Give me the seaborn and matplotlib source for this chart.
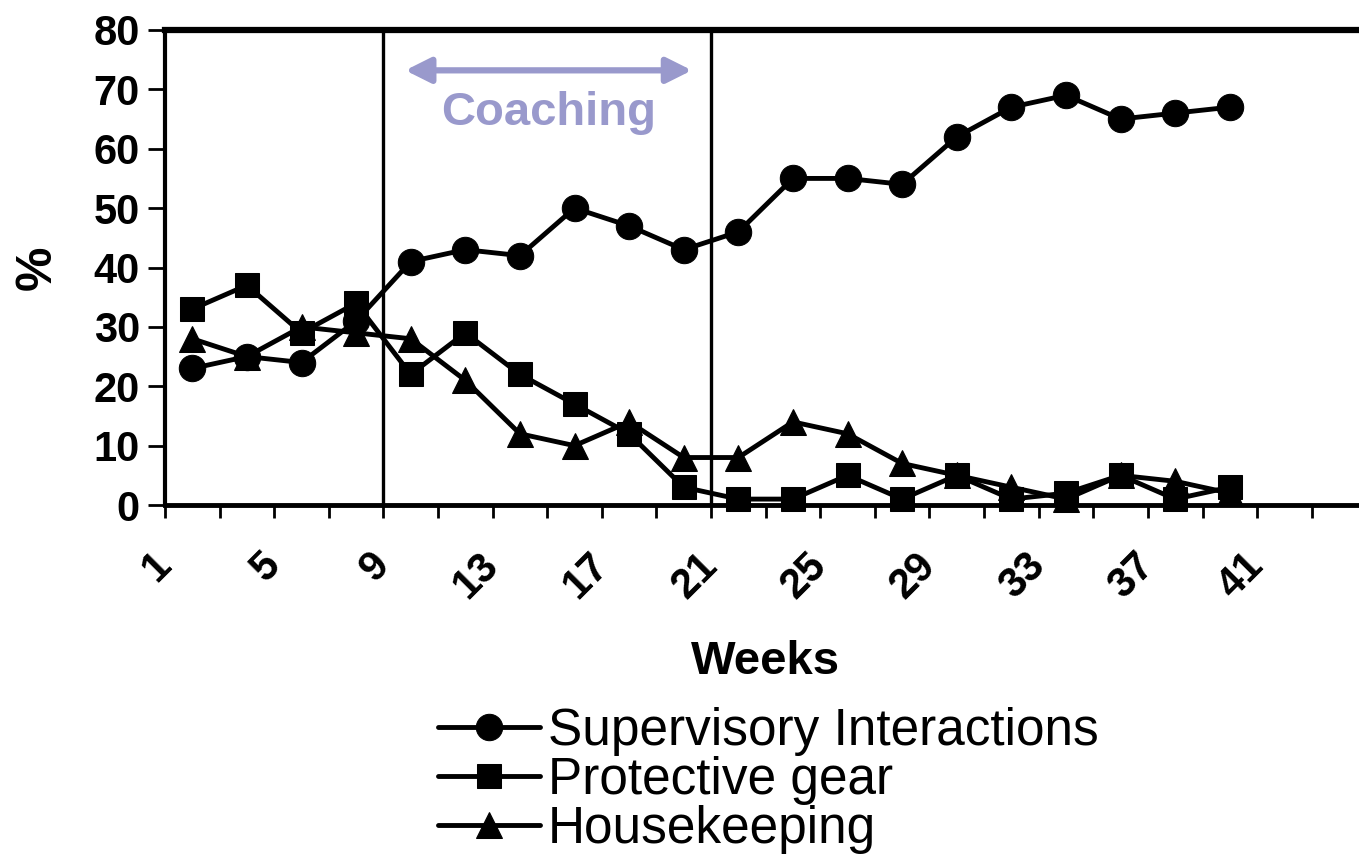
import matplotlib
matplotlib.use("Agg")
import matplotlib.pyplot as plt
import seaborn as sns
import numpy as np
import pandas as pd

# ---- data ----
weeks = [2, 4, 6, 8, 10, 12, 14, 16, 18, 20, 22, 24, 26, 28, 30, 32, 34, 36, 38, 40]
supervisory = [23, 25, 24, 31, 41, 43, 42, 50, 47, 43, 46, 55, 55, 54, 62, 67, 69, 65, 66, 67]
protective = [33, 37, 29, 34, 22, 29, 22, 17, 12, 3, 1, 1, 5, 1, 5, 1, 2, 5, 1, 3]
housekeeping = [28, 25, 30, 29, 28, 21, 12, 10, 14, 8, 8, 14, 12, 7, 5, 3, 1, 5, 4, 2]
series_names = ["Supervisory Interactions", "Protective gear", "Housekeeping"]
xtick_values = list(range(1, 45, 2))
xtick_labels = [str(v) if (v - 1) % 4 == 0 else "" for v in xtick_values]
ytick_values = list(range(0, 90, 10))
phase_lines = [9, 21]
coaching_span = (9.8, 20.3)

sns.set_theme(style="ticks")
plt.rcParams["font.family"] = ["Liberation Sans", "DejaVu Sans"]
plt.rcParams["text.color"] = "black"
plt.rcParams["axes.labelcolor"] = "black"
plt.rcParams["xtick.color"] = "black"
plt.rcParams["ytick.color"] = "black"

fig = plt.figure(figsize=(13.59, 8.56), dpi=100)
ax = fig.add_axes([0.1214, 0.410, 0.884, 0.555])

styles = [
    (supervisory, "o", 19),
    (protective, "s", 17),
    (housekeeping, "^", 19),
]
for (vals, mk, ms), name in zip(styles, series_names):
    sns.lineplot(x=weeks, y=vals, ax=ax, color="black", marker=mk, markersize=ms,
                 markeredgecolor="black", markerfacecolor="black", linewidth=3.5,
                 label=name, clip_on=False, zorder=3)

for xv in phase_lines:
    ax.axvline(xv, color="black", linewidth=2.4, zorder=2)

ax.set_xlim(1, 45)
ax.set_ylim(0, 80)
ax.set_xticks(xtick_values)
ax.set_xticklabels(xtick_labels, rotation=45, ha="right", va="center",
                   rotation_mode="anchor", fontsize=30, fontweight="bold")
ax.set_yticks(ytick_values)
ax.set_yticklabels([str(v) for v in ytick_values], fontsize=30, fontweight="bold")
ax.tick_params(axis="x", direction="out", length=9, width=2, pad=30)
ax.tick_params(axis="y", direction="out", length=12, width=2, pad=6)

for side in ["left", "bottom", "top"]:
    ax.spines[side].set_visible(True)
    ax.spines[side].set_color("black")
ax.spines["left"].set_linewidth(3)
ax.spines["bottom"].set_linewidth(3.5)
ax.spines["top"].set_linewidth(4.5)
ax.spines["right"].set_visible(False)

ax.set_xlabel("Weeks", fontsize=34, fontweight="bold")
ax.xaxis.set_label_coords(0.5, -0.285)
ax.set_ylabel("%", fontsize=36, fontweight="bold", labelpad=24)

# Coaching annotation
lav = "#9999CC"
ax.annotate("", xy=(coaching_span[1], 73.2), xytext=(coaching_span[0], 73.2),
            arrowprops=dict(arrowstyle="<|-|>", color=lav, lw=4.5,
                            mutation_scale=38, shrinkA=0, shrinkB=0))
ax.text(sum(coaching_span) / 2, 66, "Coaching", color=lav, fontsize=34,
        fontweight="bold", ha="center", va="center")

handles, labels = ax.get_legend_handles_labels()
ax.get_legend().remove()
leg = fig.legend(handles, labels, loc="upper left", bbox_to_anchor=(0.322, 0.174),
                 frameon=False, fontsize=37, handlelength=2.0, handletextpad=0.15,
                 labelspacing=0.0, borderpad=0, borderaxespad=0)
for t in leg.get_texts():
    t.set_color("black")

fig.savefig("out.png", dpi=100)
